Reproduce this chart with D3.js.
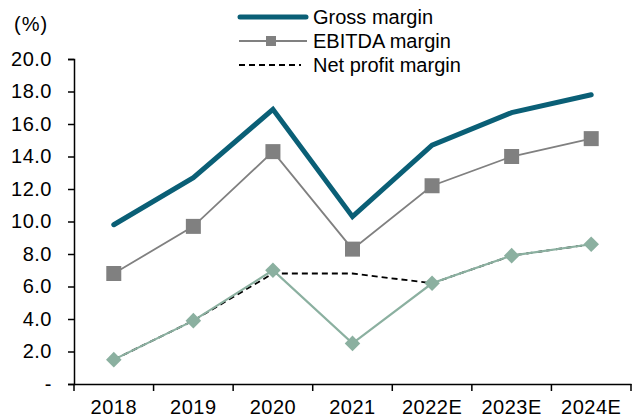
<!DOCTYPE html>
<head>
<meta charset="utf-8" />
</head>
<style>
body { margin: 0; background: #fff; font-family: Arial, "Liberation Sans", sans-serif; }
svg { display: block; }
text { font: 20px Arial, "Liberation Sans", sans-serif; fill: #000; }
.tick text { letter-spacing: 0.5px; }
</style>
<body>
<script src="https://cdn.jsdelivr.net/npm/d3@7"></script>
<script>
var years = ["2018", "2019", "2020", "2021", "2022E", "2023E", "2024E"];
var grossMargin = [9.8, 12.7, 16.9, 10.3, 14.7, 16.7, 17.8];
var ebitdaMargin = [6.8, 9.7, 14.3, 8.3, 12.2, 14.0, 15.1];
var netProfitMargin = [1.5, 3.9, 6.8, 6.8, 6.2, 7.9, 8.6];
var netProfitPoints = [1.5, 3.9, 7.0, 2.5, 6.2, 7.9, 8.6];
var yTicks = [0, 2, 4, 6, 8, 10, 12, 14, 16, 18, 20];

var width = 636, height = 418;
var margin = {left: 74, right: 5, top: 59, bottom: 34};

var svg = d3.select("body").append("svg")
	.attr("width", width)
	.attr("height", height);

var x = d3.scaleBand()
	.domain(years)
	.range([margin.left, width - margin.right]);

var y = d3.scaleLinear()
	.domain([0, 20])
	.range([height - margin.bottom, margin.top]);

// axes
var yAxis = d3.axisLeft(y)
	.tickValues(yTicks)
	.tickSize(6)
	.tickPadding(16)
	.tickFormat(function(d) { return d === 0 ? "-" : d3.format(".1f")(d); });

var gy = svg.append("g")
	.attr("transform", "translate(" + margin.left + ",0)")
	.call(yAxis);
gy.select(".domain").attr("stroke", "#000").attr("stroke-width", 1.5);
gy.selectAll("line").attr("stroke", "#000").attr("stroke-width", 1.5);
gy.selectAll("text").style("font-size", "20px").attr("fill", "#000");

var xAxis = d3.axisBottom(x).tickSize(0).tickPadding(16);
var gx = svg.append("g")
	.attr("transform", "translate(0," + y(0) + ")")
	.call(xAxis);
gx.select(".domain").attr("stroke", "#000").attr("stroke-width", 1.5);
gx.selectAll("text").style("font-size", "20px").attr("fill", "#000");

// tick marks between categories
var edges = years.map(function(d) { return x(d); }).concat([x(years[years.length - 1]) + x.bandwidth()]);
svg.append("g").selectAll("line")
	.data(edges)
	.enter().append("line")
	.attr("x1", function(d) { return d; })
	.attr("x2", function(d) { return d; })
	.attr("y1", y(0))
	.attr("y2", y(0) + 7)
	.attr("stroke", "#000")
	.attr("stroke-width", 1.5);

svg.append("text")
	.attr("x", 14)
	.attr("y", 31)
	.style("letter-spacing", "1px")
	.text("(%)");

var cx = function(d, i) { return x(years[i]) + x.bandwidth() / 2; };
var line = d3.line()
	.x(cx)
	.y(function(d) { return y(d); });

var green = "#8bb0a0";

// net profit dashed (under the green line)
svg.append("path")
	.datum(netProfitMargin)
	.attr("fill", "none")
	.attr("stroke", "#000")
	.attr("stroke-width", 1.8)
	.attr("stroke-dasharray", "6,4")
	.attr("d", line);

// green line with diamonds
svg.append("path")
	.datum(netProfitPoints)
	.attr("fill", "none")
	.attr("stroke", green)
	.attr("stroke-width", 2.2)
	.attr("d", line);

svg.append("g").selectAll("rect")
	.data(netProfitPoints)
	.enter().append("rect")
	.attr("width", 11)
	.attr("height", 11)
	.attr("fill", green)
	.attr("transform", function(d, i) {
		return "translate(" + cx(d, i) + "," + y(d) + ") rotate(45) translate(-5.5,-5.5)";
	});

// EBITDA
svg.append("path")
	.datum(ebitdaMargin)
	.attr("fill", "none")
	.attr("stroke", "#808080")
	.attr("stroke-width", 1.8)
	.attr("d", line);

svg.append("g").selectAll("rect")
	.data(ebitdaMargin)
	.enter().append("rect")
	.attr("x", function(d, i) { return cx(d, i) - 7.5; })
	.attr("y", function(d) { return y(d) - 7.5; })
	.attr("width", 15)
	.attr("height", 15)
	.attr("fill", "#808080");

// Gross
svg.append("path")
	.datum(grossMargin)
	.attr("fill", "none")
	.attr("stroke", "#0a5f76")
	.attr("stroke-width", 5)
	.attr("stroke-linejoin", "miter")
	.attr("stroke-linecap", "round")
	.attr("d", line);

// legend
var legend = svg.append("g");
var items = [
	{name: "Gross margin", y: 17},
	{name: "EBITDA margin", y: 41},
	{name: "Net profit margin", y: 65}
];
legend.append("line")
	.attr("x1", 240).attr("x2", 306)
	.attr("y1", items[0].y).attr("y2", items[0].y)
	.attr("stroke", "#0a5f76").attr("stroke-width", 5)
	.attr("stroke-linecap", "round");
legend.append("line")
	.attr("x1", 239).attr("x2", 307)
	.attr("y1", items[1].y).attr("y2", items[1].y)
	.attr("stroke", "#808080").attr("stroke-width", 1.8);
legend.append("rect")
	.attr("x", 266).attr("y", items[1].y - 5)
	.attr("width", 10).attr("height", 10)
	.attr("fill", "#808080");
legend.append("line")
	.attr("x1", 239).attr("x2", 301)
	.attr("y1", items[2].y).attr("y2", items[2].y)
	.attr("stroke", "#000").attr("stroke-width", 1.8)
	.attr("stroke-dasharray", "6,4");
legend.selectAll("text")
	.data(items)
	.enter().append("text")
	.attr("x", 313)
	.attr("y", function(d) { return d.y; })
	.attr("dy", "0.35em")
	.text(function(d) { return d.name; });
</script>
</body>
